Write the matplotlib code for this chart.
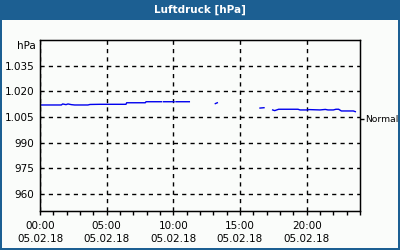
#!/usr/bin/env python3

import numpy as np
import matplotlib
matplotlib.use('Agg')
import matplotlib.pyplot as plt
from matplotlib.patches import Rectangle
from matplotlib.ticker import MultipleLocator, FuncFormatter

# Luftdruck over the day, hours since 00:00 (NaN = no data)
hours = [0.0, 1.6, 1.7, 1.95, 2.1, 2.35, 2.6, 3.6, 3.75, 4.5, 6.45, 6.5, 7.9, 7.95, 9.1,
         np.nan, 9.25, 10.05, np.nan, 10.2, 11.2, np.nan, 13.15, 13.3, np.nan, 16.5, 16.8,
         np.nan, 17.45, 17.6, 17.9, 19.35, 19.5, 20.0, 20.2, 21.0, 21.4, 21.6, 22.0, 22.2,
         22.4, 22.6, 23.5, 23.65]
pressure = [1012.0, 1012.0, 1012.6, 1012.2, 1012.6, 1012.2, 1012.0, 1012.0, 1012.3, 1012.4, 1012.4,
            1013.3, 1013.3, 1013.9, 1013.9,
            np.nan, 1013.9, 1013.9, np.nan, 1013.9, 1013.9, np.nan, 1012.8, 1013.3, np.nan, 1010.2, 1010.4,
            np.nan, 1009.1, 1008.7, 1009.5, 1009.5, 1009.1, 1009.1, 1009.3, 1009.1, 1009.4, 1009.1, 1009.1, 1009.5,
            1009.5, 1008.5, 1008.5, 1008.1]

y_ticks = [960, 975, 990, 1005, 1020, 1035]
x_ticks = [0, 5, 10, 15, 20]
x_labels = ['00:00\n05.02.18', '05:00\n05.02.18', '10:00\n05.02.18',
            '15:00\n05.02.18', '20:00\n05.02.18']
normal = 1004.0

frame_blue = '#1c5f92'
panel_bg = '#fafcfa'

fig = plt.figure(figsize=(4, 2.5), dpi=100)
fig.patch.set_facecolor(frame_blue)
# white panel inside the blue frame (title bar on top)
fig.patches.append(Rectangle((2 / 400, 2 / 250), 396 / 400, 228 / 250,
                             transform=fig.transFigure, facecolor=panel_bg,
                             edgecolor='none', zorder=-10))
fig.text(0.5, 1 - 10 / 250, 'Luftdruck [hPa]', ha='center', va='center',
         color='white', fontsize=7.5, fontweight='bold')

ax = fig.add_axes([40 / 400, 39 / 250, 320 / 400, 171 / 250])
ax.set_facecolor(panel_bg)
ax.plot(hours, pressure, color='#0000ee', lw=1)

ax.set_xlim(0, 24)
ax.set_ylim(950, 1050)

ax.set_yticks(y_ticks)
ax.yaxis.set_major_formatter(FuncFormatter(lambda v, p: f"{v / 1000:.3f}" if v >= 1000 else f"{v:.0f}"))
ax.tick_params(axis='y', length=0, pad=4, labelsize=7.5)

ax.set_xticks(x_ticks)
ax.set_xticklabels(x_labels, linespacing=1.45)
ax.xaxis.set_minor_locator(MultipleLocator(1))
ax.tick_params(axis='x', which='both', direction='out', length=3, width=1, pad=4, labelsize=7.5)

ax.grid(True, color='black', linestyle=(0, (3, 3)), linewidth=1)
for s in ax.spines.values():
    s.set_linewidth(1)

ax.text(-4 / 320 * 24, 1050 - 6 / 1.71, 'hPa', ha='right', va='center', fontsize=7.5)

ax2 = ax.twinx()
ax2.set_ylim(950, 1050)
ax2.set_yticks([normal])
ax2.set_yticklabels(['Normal'])
ax2.tick_params(axis='y', length=3, width=1, pad=0.5, labelsize=6.6)

fig.savefig('out.png', dpi=100, facecolor=fig.get_facecolor())
